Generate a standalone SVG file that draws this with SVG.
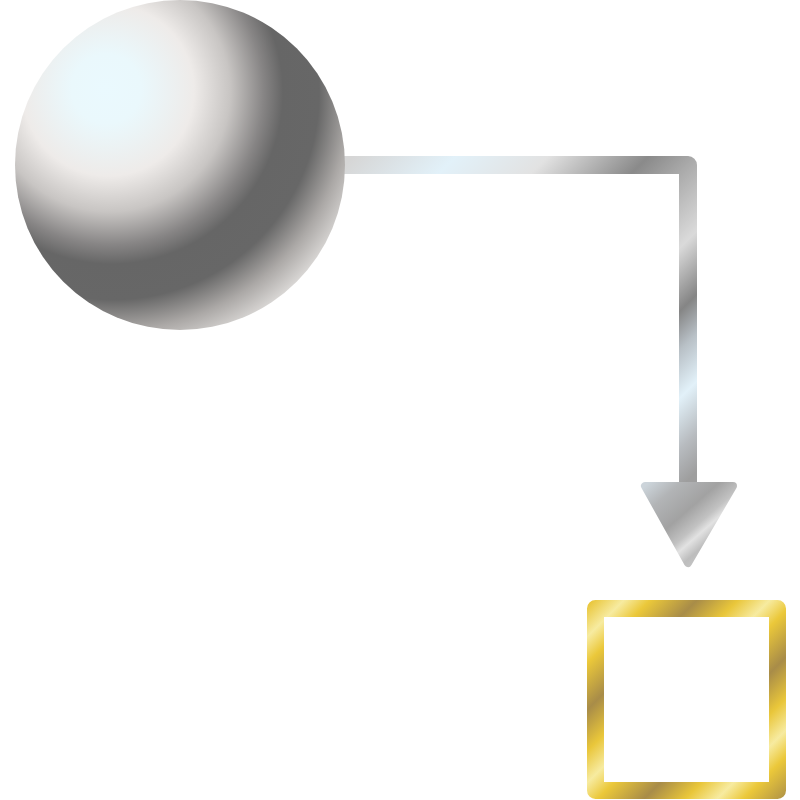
<svg xmlns="http://www.w3.org/2000/svg" width="800" height="800" viewBox="0 0 800 800">
  <defs>
    <radialGradient id="sphereGrad" gradientUnits="userSpaceOnUse" cx="115" cy="95" r="268" fx="105" fy="88">
      <stop offset="0" stop-color="#eaf9fe"/>
      <stop offset="0.13" stop-color="#eaf8fc"/>
      <stop offset="0.32" stop-color="#eeebe9"/>
      <stop offset="0.45" stop-color="#c8c5c3"/>
      <stop offset="0.57" stop-color="#878585"/>
      <stop offset="0.64" stop-color="#666666"/>
      <stop offset="0.77" stop-color="#676767"/>
      <stop offset="0.88" stop-color="#aba8a6"/>
      <stop offset="1" stop-color="#e6e4e2"/>
    </radialGradient>
    <linearGradient id="metalGrad" gradientUnits="userSpaceOnUse" x1="255" y1="255" x2="584" y2="584">
      <stop offset="0" stop-color="#d6d6d6"/>
      <stop offset="0.155" stop-color="#e2f1f9"/>
      <stop offset="0.296" stop-color="#e2e2e2"/>
      <stop offset="0.448" stop-color="#8a8a8a"/>
      <stop offset="0.521" stop-color="#aaaaaa"/>
      <stop offset="0.635" stop-color="#dadada"/>
      <stop offset="0.731" stop-color="#858585"/>
      <stop offset="0.79" stop-color="#b8c0c6"/>
      <stop offset="0.863" stop-color="#e2f1f9"/>
      <stop offset="0.94" stop-color="#b8bcc0"/>
      <stop offset="1" stop-color="#9e9e9e"/>
    </linearGradient>
    <linearGradient id="headGrad" x1="0" y1="0" x2="1" y2="1">
      <stop offset="0" stop-color="#ccd4da"/>
      <stop offset="0.18" stop-color="#b2b4b6"/>
      <stop offset="0.4" stop-color="#a2a2a2"/>
      <stop offset="0.55" stop-color="#c2c2c2"/>
      <stop offset="0.62" stop-color="#e2e2e2"/>
      <stop offset="0.72" stop-color="#bdbdbd"/>
      <stop offset="1" stop-color="#d4d4d4"/>
    </linearGradient>
    <linearGradient id="goldGrad" gradientUnits="userSpaceOnUse" x1="612" y1="612" x2="685" y2="685" spreadMethod="repeat">
      <stop offset="0" stop-color="#f7eba0"/>
      <stop offset="0.18" stop-color="#ebc83a"/>
      <stop offset="0.5" stop-color="#a88c48"/>
      <stop offset="0.78" stop-color="#e9c63a"/>
      <stop offset="1" stop-color="#f7eba0"/>
    </linearGradient>
  </defs>
  <style>
    .conn { fill: none; stroke: url(#metalGrad); stroke-width: 18; stroke-linejoin: round; }
    .head { fill: url(#headGrad); stroke: url(#headGrad); stroke-width: 8; stroke-linejoin: round; }
    .box { fill: #ffffff; stroke: url(#goldGrad); stroke-width: 17; stroke-linejoin: round; }
  </style>
  <rect width="800" height="800" fill="#ffffff"/>
  <g id="connectors">
    <path class="conn" d="M 330 165 L 688 165 L 688 488"/>
    <path class="head" d="M 645 486 L 733 486 L 688 563 Z"/>
  </g>
  <g id="node-sphere">
    <circle cx="180" cy="165" r="165" fill="url(#sphereGrad)"/>
  </g>
  <g id="node-box">
    <rect class="box" x="595.5" y="608.5" width="182" height="182"/>
  </g>
</svg>
